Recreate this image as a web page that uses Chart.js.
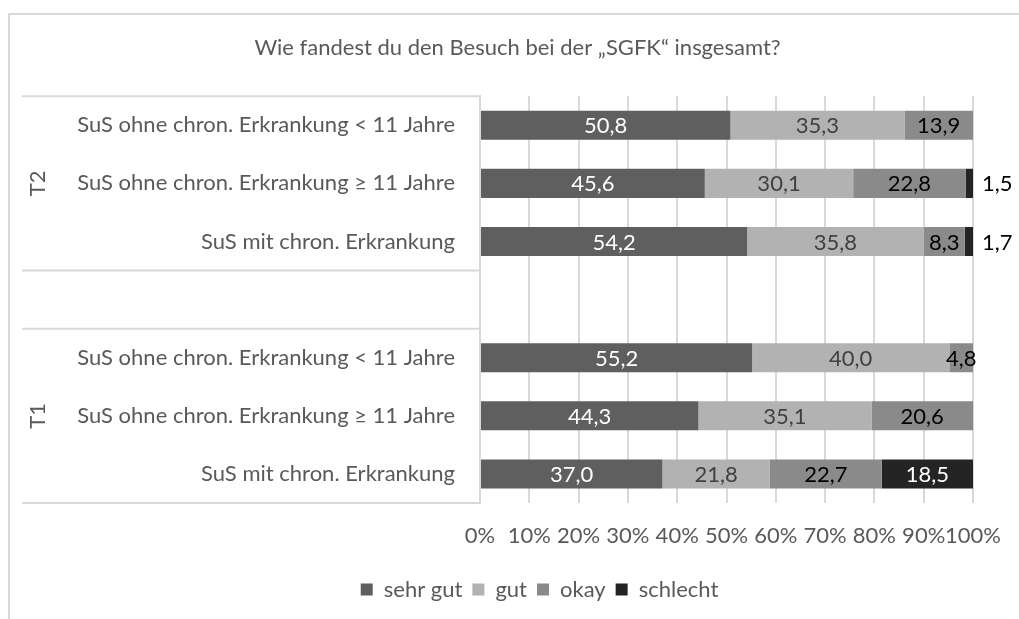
<!DOCTYPE html>
<html>
<head>
<meta charset="utf-8">
<script src="https://cdn.jsdelivr.net/npm/chart.js@4"></script>
<style>
  html, body { margin: 0; padding: 0; background: #ffffff; overflow: hidden; }
  #frame { position: absolute; left: 8px; top: 13px; width: 1040px; height: 640px;
           border-left: 2px solid #d9d9d9; border-top: 2px solid #d9d9d9; box-sizing: border-box; }
  #c { position: absolute; left: 0; top: 0; }
</style>
</head>
<body>
<div id="frame"></div>
<canvas id="c" width="1019" height="619"></canvas>
<script>
const titleText = "Wie fandest du den Besuch bei der „SGFK“ insgesamt?";
const categories = [
  "SuS ohne chron. Erkrankung < 11 Jahre",
  "SuS ohne chron. Erkrankung ≥ 11 Jahre",
  "SuS mit chron. Erkrankung",
  "",
  "SuS ohne chron. Erkrankung < 11 Jahre",
  "SuS ohne chron. Erkrankung ≥ 11 Jahre",
  "SuS mit chron. Erkrankung"
];
const groupLabels = ["T2", "T1"];
const groupRows = [[0, 2], [4, 6]];
const seriesNames = ["sehr gut", "gut", "okay", "schlecht"];
const sehrGut  = [50.8, 45.6, 54.2, null, 55.2, 44.3, 37.0];
const gut      = [35.3, 30.1, 35.8, null, 40.0, 35.1, 21.8];
const okay     = [13.9, 22.8,  8.3, null,  4.8, 20.6, 22.7];
const schlecht = [null,  1.5,  1.7, null, null, null, 18.5];
const xTicks = [0, 10, 20, 30, 40, 50, 60, 70, 80, 90, 100];

const FONT = "Lato";
const TXT = "#595959";
const GRID = "#d9d9d9";
const fills = ["#5f5f5f", "#b2b2b2", "#8a8a8a", "#242424"];
const labelColors = ["#ffffff", "#404040", "#000000", "#ffffff"];

const fmt = v => v.toFixed(1).replace(".", ",");

const decorPlugin = {
  id: "decor",
  afterLayout(chart) {
    const t = chart.titleBlock;
    if (t) { t.left = 16; t.right = 1019; }
    const l = chart.legend;
    if (l) { l.left = 60; l.right = 1019; }
  },
  afterDraw(chart) {
    const ctx = chart.ctx;
    const y = chart.scales.y;
    const area = chart.chartArea;
    const bounds = [area.top];
    for (let i = 0; i < groupRows.length - 1; i++) {
      const a = groupRows[i][1], b = groupRows[i + 1][0];
      bounds.push((y.getPixelForValue(a) + y.getPixelForValue(a + 1)) / 2);
      bounds.push((y.getPixelForValue(b - 1) + y.getPixelForValue(b)) / 2);
    }
    bounds.push(area.bottom);
    ctx.save();
    ctx.strokeStyle = GRID;
    ctx.lineWidth = 2;
    bounds.forEach(py => {
      ctx.beginPath();
      ctx.moveTo(22, py);
      ctx.lineTo(area.left, py);
      ctx.stroke();
    });
    ctx.fillStyle = TXT;
    ctx.font = "22px " + FONT;
    ctx.textAlign = "center";
    ctx.textBaseline = "middle";
    groupRows.forEach((r, gi) => {
      const cy = (y.getPixelForValue(r[0]) + y.getPixelForValue(r[1])) / 2;
      ctx.save();
      ctx.translate(38, cy);
      ctx.rotate(-Math.PI / 2);
      ctx.fillText(groupLabels[gi], 0, 0);
      ctx.restore();
    });
    chart.data.datasets.forEach((ds, di) => {
      const meta = chart.getDatasetMeta(di);
      meta.data.forEach((el, i) => {
        const v = ds.data[i];
        if (v === null || v === undefined || v === 0) return;
        ctx.font = "22px " + FONT;
        ctx.textBaseline = "middle";
        if (di === 3 && v < 5) {
          ctx.fillStyle = "#000000";
          ctx.textAlign = "left";
          ctx.fillText(fmt(v), el.x + 9, el.y + 1);
        } else {
          ctx.fillStyle = labelColors[di];
          ctx.textAlign = "center";
          ctx.fillText(fmt(v), (el.x + el.base) / 2, el.y + 1);
        }
      });
    });
    ctx.restore();
  }
};

const seriesData = [sehrGut, gut, okay, schlecht];
new Chart(document.getElementById("c"), {
  type: "bar",
  data: {
    labels: categories,
    datasets: seriesNames.map((n, i) => ({
      label: n,
      data: seriesData[i],
      backgroundColor: fills[i],
      borderWidth: 0,
      barPercentage: 0.5,
      categoryPercentage: 1.0
    }))
  },
  options: {
    indexAxis: "y",
    responsive: false,
    animation: false,
    devicePixelRatio: 1,
    layout: { padding: { top: 34.4, left: 16, right: 46, bottom: 8.5 } },
    plugins: {
      title: {
        display: true,
        text: titleText,
        color: TXT,
        font: { family: FONT, size: 22, weight: "normal" },
        padding: { top: 0, bottom: 35.4 }
      },
      legend: {
        position: "bottom",
        labels: {
          color: TXT,
          font: { family: FONT, size: 22 },
          boxWidth: 12,
          boxHeight: 12,
          padding: 10
        }
      },
      tooltip: { enabled: false }
    },
    scales: {
      x: {
        stacked: true,
        min: 0,
        max: 100,
        afterBuildTicks(scale) { scale.ticks = xTicks.map(v => ({ value: v })); },
        afterFit(scale) { scale.height = 65.5; scale.paddingRight = 0; scale.paddingLeft = 0; },
        ticks: {
          color: TXT,
          font: { family: FONT, size: 22 },
          padding: 20,
          maxRotation: 0,
          autoSkip: false,
          callback: v => v + "%"
        },
        grid: { color: GRID, lineWidth: 2, drawTicks: false },
        border: { display: false }
      },
      y: {
        stacked: true,
        afterFit(scale) { scale.width = 480 - 16; },
        ticks: {
          color: TXT,
          font: { family: FONT, size: 22 },
          padding: 25,
          autoSkip: false
        },
        grid: { display: false, drawTicks: false },
        border: { display: true, color: GRID, width: 2 }
      }
    }
  },
  plugins: [decorPlugin]
});
</script>
</body>
</html>
